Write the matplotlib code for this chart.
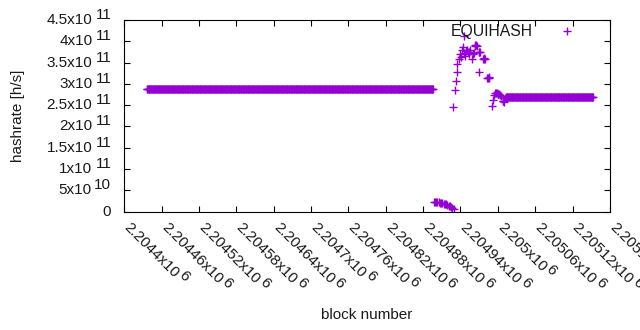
import numpy as np
import matplotlib
matplotlib.use("Agg")
import matplotlib.pyplot as plt
from matplotlib.transforms import offset_copy
from matplotlib.ticker import NullFormatter

# plateaus: (first block, last block, hashrate)
plateau_1 = (2204436, 2204896, 2.89e11)
plateau_2 = (2205013, 2205153, 2.70e11)

# short dip right after the first plateau
dip_blocks = [2204897, 2204899, 2204901, 2204903, 2204905, 2204907, 2204909,
              2204911, 2204913, 2204915, 2204917, 2204919, 2204921, 2204923,
              2204925, 2204927, 2204929]
dip_values = [2.30e10, 2.28e10, 2.25e10, 2.22e10, 2.18e10, 2.12e10, 2.05e10,
              1.98e10, 1.90e10, 1.80e10, 1.70e10, 1.57e10, 1.42e10, 1.25e10,
              1.05e10, 0.82e10, 0.55e10]

# scattered recovery between the plateaus
spike_blocks = [2204928, 2204931, 2204932, 2204934, 2204935, 2204937, 2204939,
                2204941, 2204942, 2204944, 2204945, 2204946, 2204947, 2204949,
                2204950, 2204952, 2204953, 2204954, 2204956, 2204958, 2204960,
                2204962, 2204963, 2204964, 2204965, 2204966, 2204969, 2204969,
                2204970, 2204971, 2204976, 2204977, 2204978, 2204979, 2204983,
                2204984, 2204985, 2204986, 2204990, 2204992, 2204994, 2204996,
                2204997, 2204998, 2205000, 2205001, 2205002, 2205003, 2205005,
                2205008, 2205009, 2205010, 2205012]
spike_values = [2.45e11, 2.86e11, 3.07e11, 3.28e11, 3.47e11, 3.58e11, 3.70e11,
                3.64e11, 3.80e11, 3.86e11, 4.12e11, 3.72e11, 3.65e11, 3.77e11,
                3.80e11, 3.74e11, 3.70e11, 3.75e11, 3.80e11, 3.59e11, 3.70e11,
                3.72e11, 3.90e11, 3.92e11, 3.92e11, 3.90e11, 3.28e11, 3.74e11,
                3.76e11, 3.75e11, 3.59e11, 3.59e11, 3.60e11, 3.59e11, 3.15e11,
                3.15e11, 3.16e11, 3.15e11, 2.49e11, 2.63e11, 2.74e11, 2.78e11,
                2.79e11, 2.78e11, 2.76e11, 2.77e11, 2.76e11, 2.75e11, 2.72e11,
                2.60e11, 2.59e11, 2.58e11, 2.66e11]

xticks = [2204400 + 60 * k for k in range(14)]
xtick_mant = ["2.2044x10", "2.20446x10", "2.20452x10", "2.20458x10",
              "2.20464x10", "2.2047x10", "2.20476x10", "2.20482x10",
              "2.20488x10", "2.20494x10", "2.205x10", "2.20506x10",
              "2.20512x10", "2.20518x10"]
xtick_exp = ["6"] * 14

yticks = [0, 5e10, 1e11, 1.5e11, 2e11, 2.5e11, 3e11, 3.5e11, 4e11, 4.5e11]
ytick_mant = ["0", "5x10", "1x10", "1.5x10", "2x10", "2.5x10", "3x10",
              "3.5x10", "4x10", "4.5x10"]
ytick_exp = ["", "10", "11", "11", "11", "11", "11", "11", "11", "11"]

COLOR = "#9400d3"
TEXT = "#1a1a1a"
FS = 11

plt.rcParams["font.family"] = ["Liberation Sans", "DejaVu Sans"]

fig = plt.figure(figsize=(6.4, 3.3), dpi=100)
ax = fig.add_axes([0.1942, 0.3585, 0.7588, 0.5809])

blocks = np.concatenate([
    np.arange(plateau_1[0], plateau_1[1] + 1),
    dip_blocks,
    spike_blocks,
    np.arange(plateau_2[0], plateau_2[1] + 1),
])
values = np.concatenate([
    np.full(plateau_1[1] - plateau_1[0] + 1, plateau_1[2]),
    dip_values,
    spike_values,
    np.full(plateau_2[1] - plateau_2[0] + 1, plateau_2[2]),
])

ax.plot(blocks, values, "+", color=COLOR, ms=5.5, mew=1.0, label="EQUIHASH")

ax.set_xlim(2204400, 2205180)
ax.set_ylim(0, 4.5e11)
ax.set_xticks(xticks)
ax.set_yticks(yticks)
ax.xaxis.set_major_formatter(NullFormatter())
ax.yaxis.set_major_formatter(NullFormatter())
ax.tick_params(direction="in", top=True, right=True, length=4, width=0.8)
for sp in ax.spines.values():
    sp.set_linewidth(0.8)

renderer = fig.canvas.get_renderer()


def text_width(s):
    t = fig.text(0, 0, s, fontsize=FS)
    w = t.get_window_extent(renderer).width
    t.remove()
    return w


# y tick labels, gnuplot style with full-size exponent
ytrans = ax.get_yaxis_transform()
for v, m, e in zip(yticks, ytick_mant, ytick_exp):
    if e:
        ax.text(0, v, e, fontsize=FS, color=TEXT, ha="right", va="center",
                transform=offset_copy(ytrans, fig=fig, x=-13, y=5, units="dots"))
        dx = -13 - text_width(e) - 3
        ax.text(0, v, m, fontsize=FS, color=TEXT, ha="right", va="center",
                transform=offset_copy(ytrans, fig=fig, x=dx, y=0, units="dots"))
    else:
        ax.text(0, v, m, fontsize=FS, color=TEXT, ha="right", va="center",
                transform=offset_copy(ytrans, fig=fig, x=-13, y=0, units="dots"))

# x tick labels rotated -45 degrees
xtrans = ax.get_xaxis_transform()
ux, uy = np.cos(np.radians(-45)), np.sin(np.radians(-45))
vx, vy = -uy, ux
for b, m, e in zip(xticks, xtick_mant, xtick_exp):
    ax.text(b, 0, m, fontsize=FS, color=TEXT, ha="left", va="center",
            rotation=-45, rotation_mode="anchor", clip_on=False,
            transform=offset_copy(xtrans, fig=fig, x=2, y=-13, units="dots"))
    d = text_width(m) + 2
    ax.text(b, 0, e, fontsize=FS, color=TEXT, ha="left", va="center",
            rotation=-45, rotation_mode="anchor", clip_on=False,
            transform=offset_copy(xtrans, fig=fig, x=2 + d * ux + 4 * vx,
                                  y=-13 + d * uy + 4 * vy, units="dots"))

ax.set_xlabel("block number", fontsize=FS, color=TEXT)
ax.set_ylabel("hashrate [h/s]", fontsize=FS, color=TEXT)
ax.xaxis.set_label_coords(0.5, -0.50)
ax.yaxis.set_label_coords(-0.205, 0.5)

leg = ax.legend(loc="upper right", bbox_to_anchor=(0.9446, 0.979),
                frameon=False, markerfirst=False, handletextpad=1.2,
                borderpad=0, borderaxespad=0, handlelength=2, numpoints=1,
                fontsize=11.3)
for t in leg.get_texts():
    t.set_color(TEXT)

fig.savefig("out.png", dpi=100, facecolor="white")
